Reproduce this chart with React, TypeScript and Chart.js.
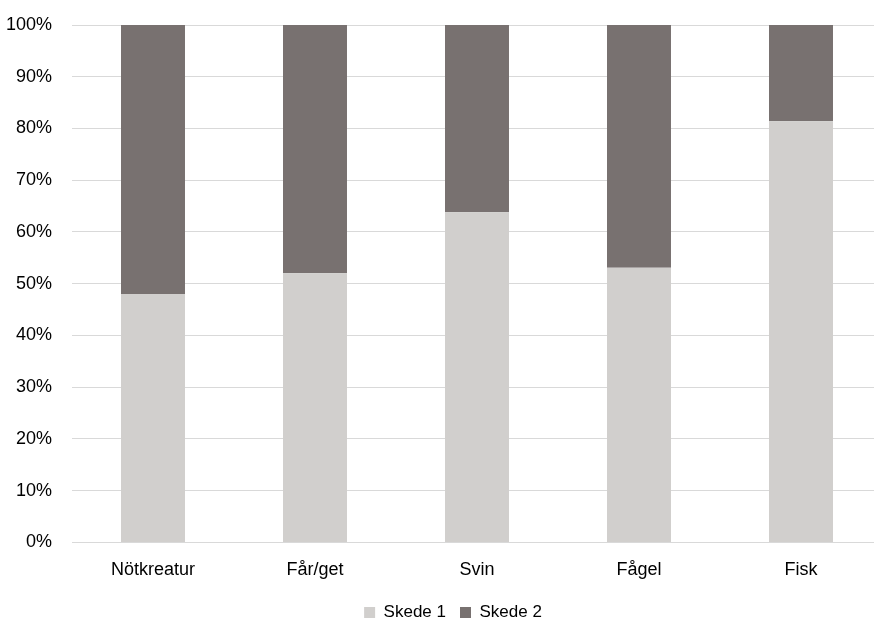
import React, { useEffect, useRef } from "react";
import { Chart, registerables } from "chart.js";

Chart.register(...registerables);

const categories = ["Nötkreatur", "Får/get", "Svin", "Fågel", "Fisk"];
const skede1 = [48, 52, 63.8, 53.1, 81.4];
const skede2 = skede1.map((v) => 100 - v);
const seriesNames = ["Skede 1", "Skede 2"];
const yTicks = [0, 10, 20, 30, 40, 50, 60, 70, 80, 90, 100];

const legendShift = {
  id: "legendShift",
  afterLayout(chart: any) {
    if (chart.legend) {
      chart.legend.left += 12;
      chart.legend.right += 12;
    }
  },
};

export default function App() {
  const ref = useRef<HTMLCanvasElement>(null);
  useEffect(() => {
    const font = { family: "'Liberation Sans', Arial, sans-serif", size: 18 };
    const legendFont = { family: "'Liberation Sans', Arial, sans-serif", size: 17 };
    const chart = new Chart(ref.current!, {
      type: "bar",
      data: {
        labels: categories,
        datasets: [
          { label: seriesNames[0], data: skede1, backgroundColor: "#D1CFCD", barPercentage: 0.79, categoryPercentage: 0.5 },
          { label: seriesNames[1], data: skede2, backgroundColor: "#787170", barPercentage: 0.79, categoryPercentage: 0.5 },
        ],
      },
      plugins: [legendShift],
      options: {
        animation: false,
        responsive: false,
        maintainAspectRatio: false,
        layout: { padding: { top: 25, right: 24, left: 0, bottom: -9 } },
        plugins: {
          tooltip: { enabled: false },
          legend: {
            position: "bottom",
            labels: { font: legendFont, color: "#000", boxWidth: 11, boxHeight: 11, padding: 14 },
          },
        },
        scales: {
          x: {
            stacked: true,
            grid: { display: false },
            border: { display: false },
            ticks: { font, color: "#000", padding: 9 },
            afterFit: (axis: any) => {
              axis.paddingLeft = 0;
              axis.paddingRight = 0;
            },
          },
          y: {
            stacked: true,
            min: 0,
            max: 100,
            afterBuildTicks: (axis: any) => {
              axis.ticks = yTicks.map((v) => ({ value: v }));
            },
            afterFit: (axis: any) => {
              axis.width = 72;
              axis.paddingTop = 0;
              axis.paddingBottom = 0;
            },
            grid: { color: "#D9D9D9", lineWidth: 1, drawTicks: false },
            border: { display: false },
            ticks: { font, color: "#000", padding: 20, callback: (v: any) => v + "%" },
          },
        },
      },
    });
    return () => chart.destroy();
  }, []);
  return (
    <div style={{ position: "absolute", left: 0, top: 0, width: 874, height: 622, overflow: "hidden", background: "#fff" }}>
      <canvas ref={ref} width={906} height={622} />
    </div>
  );
}
